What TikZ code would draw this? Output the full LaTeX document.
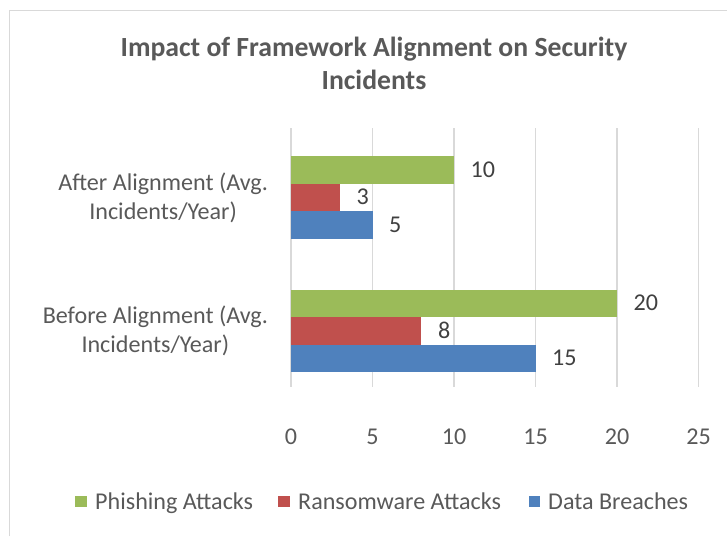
\documentclass[tikz,border=0pt]{standalone}
\usepackage{fontspec}
\setmainfont{Carlito}
\usetikzlibrary{positioning}
\definecolor{phish}{HTML}{9BBB59}
\definecolor{ransom}{HTML}{C0504D}
\definecolor{breach}{HTML}{4F81BD}
\definecolor{gridgray}{HTML}{D9D9D9}
\definecolor{txtgray}{HTML}{595959}

\begin{document}
\begin{tikzpicture}[x=1pt,y=-1pt,
    txt/.style={text=txtgray,font=\fontsize{24.1}{28.5}\selectfont},
    vallabel/.style={text=black!75,font=\fontsize{24.1}{28.5}\selectfont,anchor=west,inner sep=0pt},
    gridline/.style={draw=gridgray,line width=1.4pt},
    legbox/.style={minimum size=11.5pt,inner sep=0pt}]
    \useasboundingbox (0,0) rectangle (727,536);
    \draw[gridgray,line width=1pt] (9,536) -- (9,10) -- (727,10);
    \node[txt,font=\bfseries\fontsize{27.7}{33}\selectfont,align=center,anchor=base] (title)
      at (374,89) {Impact of Framework Alignment on Security\\Incidents};
    \node[txt,align=center,anchor=east,inner sep=0pt] (after) at (268,198)
      {After Alignment (Avg.\\Incidents/Year)};
    \node[txt,align=center,anchor=east,inner sep=0pt] (before) at (268,331)
      {Before Alignment (Avg.\\Incidents/Year)};
    \begin{scope}[shift={(291,0)},x=16.3pt]
      \foreach \v in {0,5,...,25} {
        \draw[gridline] (\v,128) -- (\v,387);
        \node[txt] (tick\v) at (\v,437) {\v};
      }
      \foreach \top/\p/\r/\b/\g in {156/10/3/5/aft,289.5/20/8/15/bef} {
        \fill[phish] (0,\top) rectangle (\p,\top+27.5);
        \fill[ransom] (0,\top+27.5) rectangle (\r,\top+55);
        \fill[breach] (0,\top+55) rectangle (\b,\top+82.5);
        \node[vallabel,xshift=16.5pt] (\g-phish) at (\p,\top+13.75) {\p};
        \node[vallabel,xshift=16.5pt] (\g-ransom) at (\r,\top+41.25) {\r};
        \node[vallabel,xshift=16.5pt] (\g-breach) at (\b,\top+68.75) {\b};
      }
    \end{scope}
    % legend
    \node[legbox,fill=phish] (key-phish) at (81,501.7) {};
    \node[txt,anchor=base west,inner sep=0pt] (lab-phish) at (95,509.5) {Phishing Attacks};
    \node[legbox,fill=ransom] (key-ransom) at (284.2,501.7) {};
    \node[txt,anchor=base west,inner sep=0pt] (lab-ransom) at (298,509.5) {Ransomware Attacks};
    \node[legbox,fill=breach] (key-breach) at (534.5,501.7) {};
    \node[txt,anchor=base west,inner sep=0pt] (lab-breach) at (548,509.5) {Data Breaches};
\end{tikzpicture}
\end{document}
